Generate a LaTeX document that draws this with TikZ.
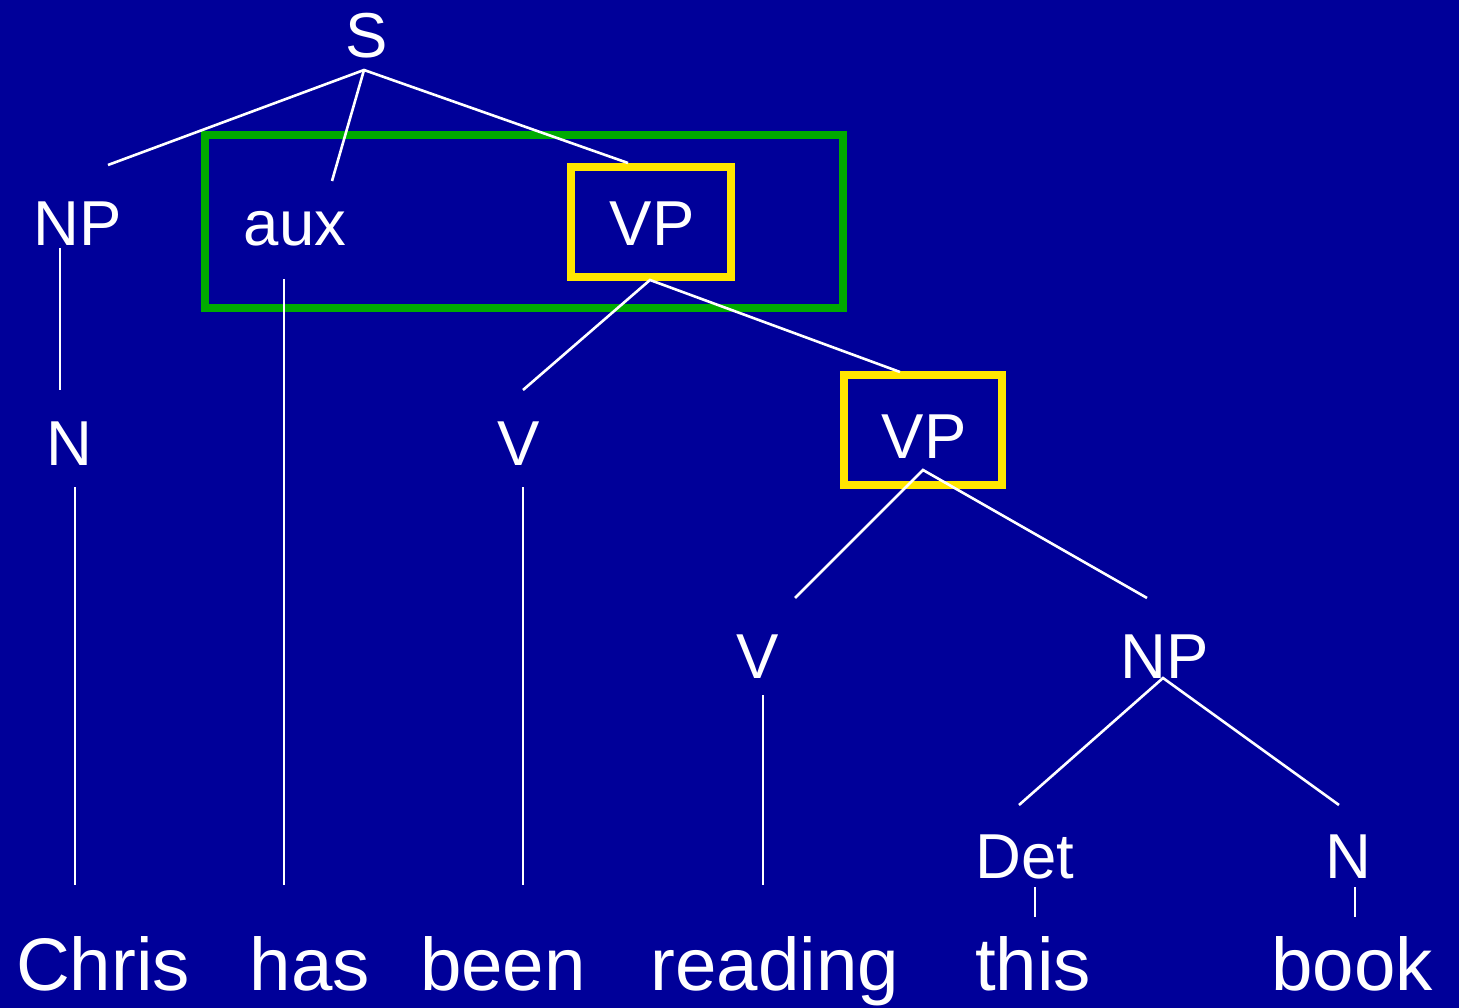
\documentclass[tikz,border=0pt]{standalone}
\usepackage{fontspec}
\setmainfont{Liberation Sans}
\definecolor{slidebg}{RGB}{0,0,153}
\definecolor{hlgreen}{RGB}{0,170,0}
\definecolor{hlyellow}{RGB}{255,230,0}
\begin{document}
\begin{tikzpicture}[x=1pt,y=-1pt,
  cat/.style={text=white,inner sep=0pt,anchor=base,font=\fontsize{63.5}{70}\selectfont},
  word/.style={text=white,inner sep=0pt,anchor=base,font=\fontsize{74.5}{80}\selectfont},
  branch/.style={draw=white,line width=2.6pt},
  ybox/.style={draw=hlyellow,line width=7.5pt,inner sep=0pt},
  gbox/.style={draw=hlgreen,line width=7.5pt,inner sep=0pt}]
  % background
  \fill[slidebg] (0,0) rectangle (1459,1008);
  \useasboundingbox (0,0) rectangle (1459,1008);

  % highlight boxes
  \node[gbox,minimum width=638,minimum height=173] (vpgroup) at (524,221.5) {};
  \node[ybox,minimum width=160,minimum height=110] (vpbox1) at (651,222) {};
  \node[ybox,minimum width=158,minimum height=110] (vpbox2) at (923,430) {};

  % category labels
  \node[cat] (S)   at (367,58)   {S};
  \node[cat] (NP1) at (78,246)   {NP};
  \node[cat] (aux) at (295,246)  {aux};
  \node[cat] (VP1) at (652,246)  {VP};
  \node[cat] (N1)  at (69,465)   {N};
  \node[cat] (V1)  at (519,465)  {V};
  \node[cat] (VP2) at (924,458)  {VP};
  \node[cat] (V2)  at (758,678)  {V};
  \node[cat] (NP2) at (1165,678) {NP};
  \node[cat] (Det) at (1025,878) {Det};
  \node[cat] (N2)  at (1348,878) {N};

  % words
  \node[word] (chris)   at (103,990)  {Chris};
  \node[word] (has)     at (310,990)  {has};
  \node[word] (been)    at (503,990)  {been};
  \node[word] (reading) at (775,990)  {reading};
  \node[word] (this)    at (1033,990) {this};
  \node[word] (book)    at (1352,990) {book};

  % branch end points
  \coordinate (S-b)    at (364,70);
  \coordinate (NP1-t)  at (108,165);
  \coordinate (aux-t)  at (332,181);
  \coordinate (VP1-t)  at (628,163);
  \coordinate (NP1-b)  at (60,248);
  \coordinate (N1-t)   at (60,390);
  \coordinate (aux-b)  at (284,279);
  \coordinate (has-t)  at (284,885);
  \coordinate (VP1-b)  at (650,280);
  \coordinate (V1-t)   at (523,390);
  \coordinate (VP2-t)  at (900,372);
  \coordinate (N1-b)   at (75,487);
  \coordinate (chris-t) at (75,885);
  \coordinate (V1-b)   at (523,487);
  \coordinate (been-t) at (523,885);
  \coordinate (VP2-b)  at (923,470);
  \coordinate (V2-t)   at (795,598);
  \coordinate (NP2-t)  at (1147,598);
  \coordinate (V2-b)   at (763,695);
  \coordinate (reading-t) at (763,885);
  \coordinate (NP2-b)  at (1163,678);
  \coordinate (Det-t)  at (1019,805);
  \coordinate (N2-t)   at (1339,805);
  \coordinate (Det-b)  at (1035,887);
  \coordinate (this-t) at (1035,917);
  \coordinate (N2-b)   at (1355,887);
  \coordinate (book-t) at (1355,917);

  % branches
  \draw[branch] (NP1-t) -- (S-b) -- (VP1-t);
  \draw[branch] (S-b) -- (aux-t);
  \draw[branch] (NP1-b) -- (N1-t);
  \draw[branch] (aux-b) -- (has-t);
  \draw[branch] (V1-t) -- (VP1-b) -- (VP2-t);
  \draw[branch] (N1-b) -- (chris-t);
  \draw[branch] (V1-b) -- (been-t);
  \draw[branch] (V2-t) -- (VP2-b) -- (NP2-t);
  \draw[branch] (V2-b) -- (reading-t);
  \draw[branch] (Det-t) -- (NP2-b) -- (N2-t);
  \draw[branch] (Det-b) -- (this-t);
  \draw[branch] (N2-b) -- (book-t);
\end{tikzpicture}
\end{document}
